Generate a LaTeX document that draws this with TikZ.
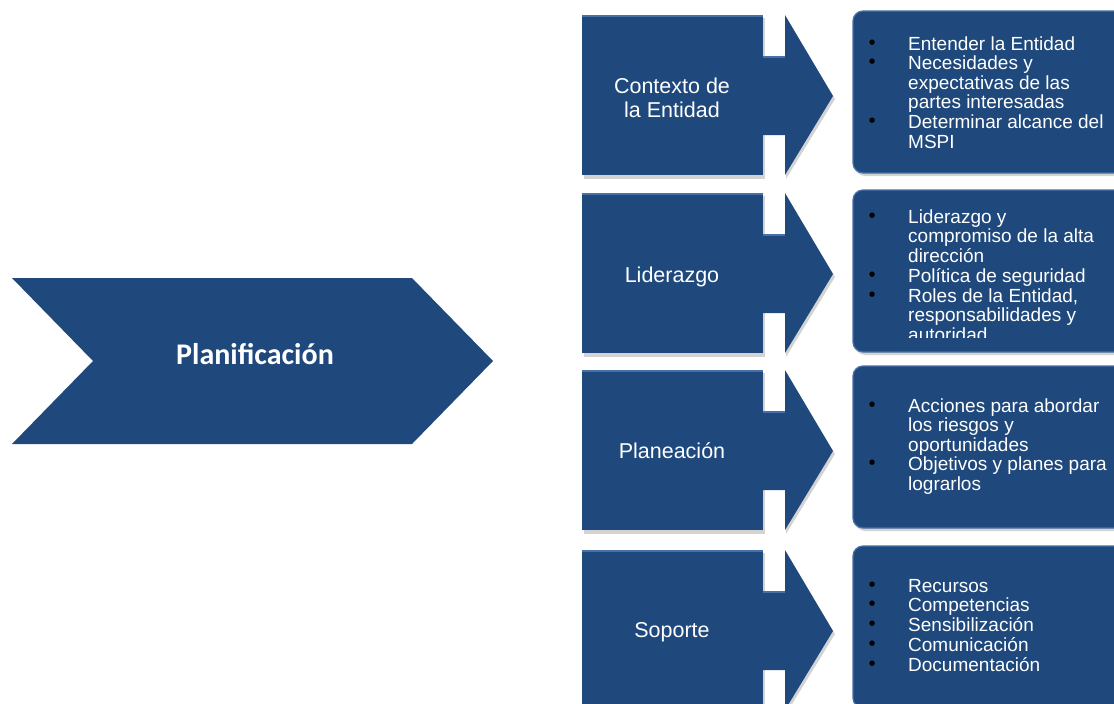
\documentclass[tikz,border=0pt]{standalone}
\usepackage{fontspec}
\setmainfont{Liberation Sans}
\newfontfamily\calibfont{Carlito}
\newfontfamily\dotfont{DejaVu Sans}
\definecolor{navy}{RGB}{31,73,125}
\definecolor{navyedge}{RGB}{72,112,168}
\definecolor{shadowgray}{RGB}{110,110,110}
\newcommand{\bul}{\raisebox{6pt}{\textcolor{black}{\dotfont\fontsize{7}{7}\selectfont ●}}}
\begin{document}
\begin{tikzpicture}[x=1pt,y=-1pt,
  blockfill/.style={fill=navy},
  dropshadow/.style={fill=shadowgray,opacity=0.3},
  lbl/.style={text=white,font=\fontsize{21.5}{24}\selectfont,align=center,inner sep=0},
  items/.style={text=white,font=\fontsize{19}{19.6}\selectfont,anchor=base west,inner sep=0},
  rim/.style={draw=navyedge,line width=1.2pt},
]
\useasboundingbox (0,0) rectangle (1114,704);

% left chevron
\path[blockfill] (12,278) -- (412,278) -- (493,361) -- (412,444) -- (12,444) -- (93,361) -- cycle;
\node[text=white,font=\calibfont\bfseries\fontsize{30}{36}\selectfont,inner sep=0] (plan) at (255,354) {Planificación};

% arrow blocks and boxes
\foreach \t/\b in {15/11,193/190,370/366,550/546}{
  \fill[dropshadow] (584,{\t+3}) rectangle (765,{\t+164});
  \fill[dropshadow] (786,{\t+3}) -- (835,{\t+84}) -- (786,{\t+164}) -- cycle;
  \path[blockfill] (750,{\t+41}) -- (785,{\t+41}) -- (785,\t) -- (833,{\t+81}) -- (785,{\t+160}) -- (785,{\t+120}) -- (750,{\t+120}) -- cycle;
  \path[blockfill] (582,\t) rectangle (763,{\t+160});
  \draw[navyedge,line width=1.5pt] (582,{\t+0.75}) -- (763,{\t+0.75});
  \draw[navyedge,line width=1.5pt] (763,{\t+41.75}) -- (785,{\t+41.75});
  \fill[dropshadow,rounded corners=10pt] (855,{\b+3}) rectangle (1130,{\b+165});
  \path[blockfill,rim,rounded corners=10pt] (853,\b) rectangle (1130,{\b+162});
}

% labels
\node[lbl] (ctx) at (672,98) {Contexto de\\la Entidad};
\node[lbl] (lid) at (672,277) {Liderazgo};
\node[lbl] (pla) at (672,451) {Planeación};
\node[lbl] (sop) at (672,632) {Soporte};

% box texts
\node[items] (i1) at (869,50) {\begin{tabular}[t]{@{}p{39pt}@{}l@{}}
\bul & Entender la Entidad\\
\bul & Necesidades y\\
 & expectativas de las\\
 & partes interesadas\\
\bul & Determinar alcance del\\
 & MSPI
\end{tabular}};

\begin{scope}
\clip (850,190) rectangle (1114,337.5);
\node[items] (i2) at (869,223) {\begin{tabular}[t]{@{}p{39pt}@{}l@{}}
\bul & Liderazgo y\\
 & compromiso de la alta\\
 & dirección\\
\bul & Política de seguridad\\
\bul & Roles de la Entidad,\\
 & responsabilidades y\\
 & autoridad
\end{tabular}};
\end{scope}

\node[items] (i3) at (869,412) {\begin{tabular}[t]{@{}p{39pt}@{}l@{}}
\bul & Acciones para abordar\\
 & los riesgos y\\
 & oportunidades\\
\bul & Objetivos y planes para\\
 & lograrlos
\end{tabular}};

\node[items] (i4) at (869,592) {\begin{tabular}[t]{@{}p{39pt}@{}l@{}}
\bul & Recursos\\
\bul & Competencias\\
\bul & Sensibilización\\
\bul & Comunicación\\
\bul & Documentación
\end{tabular}};
\end{tikzpicture}
\end{document}
